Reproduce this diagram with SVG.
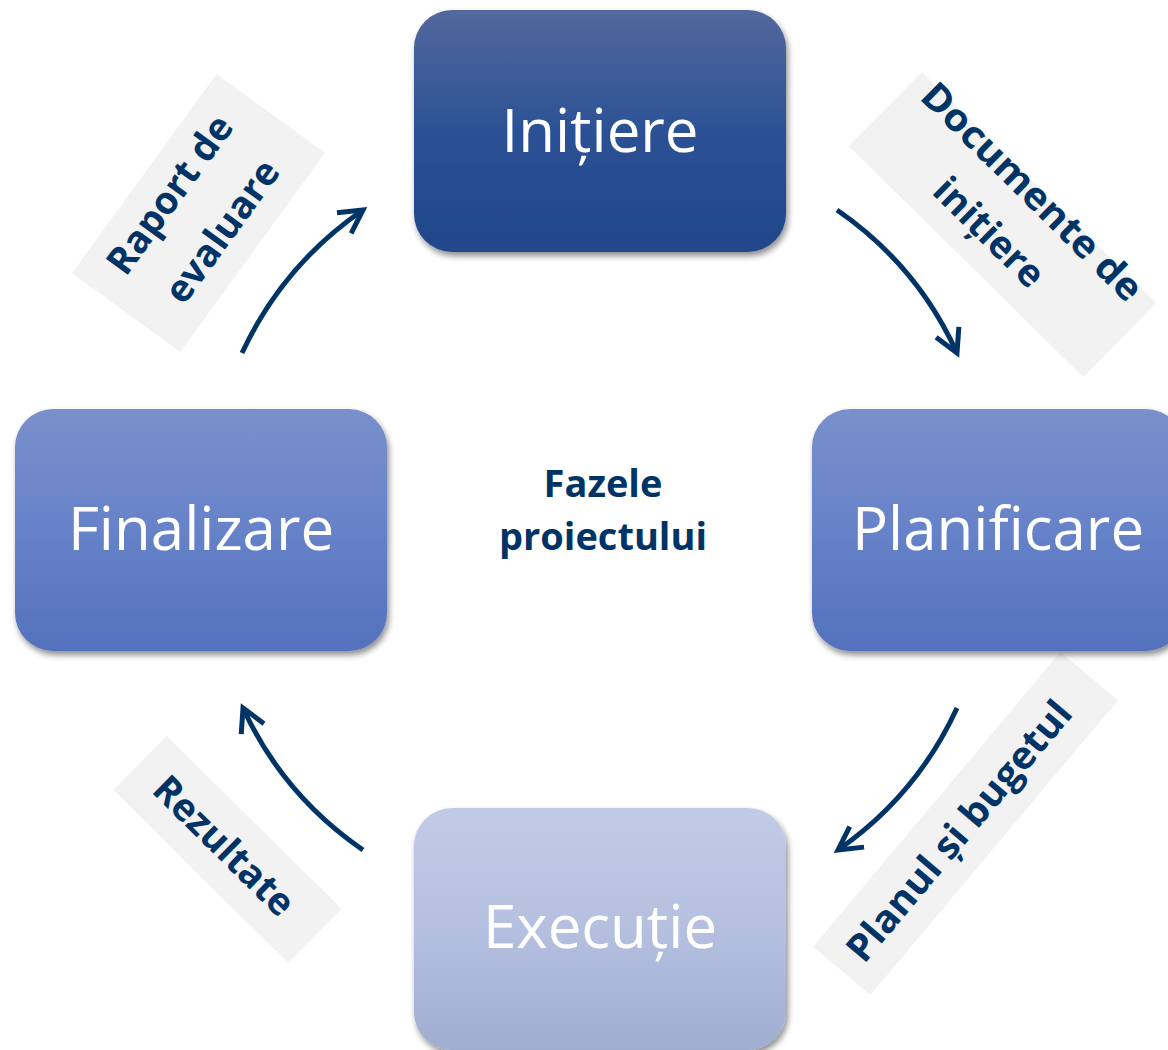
<svg xmlns="http://www.w3.org/2000/svg" width="1168" height="1050" viewBox="0 0 1168 1050">
  <defs>
    <linearGradient id="gDark" x1="0" y1="0" x2="0" y2="1">
      <stop offset="0" stop-color="#53689d"/>
      <stop offset="0.5" stop-color="#2b5195"/>
      <stop offset="1" stop-color="#22468a"/>
    </linearGradient>
    <linearGradient id="gMid" x1="0" y1="0" x2="0" y2="1">
      <stop offset="0" stop-color="#7a90cc"/>
      <stop offset="0.5" stop-color="#6682c8"/>
      <stop offset="1" stop-color="#5471bd"/>
    </linearGradient>
    <linearGradient id="gLight" x1="0" y1="0" x2="0" y2="1">
      <stop offset="0" stop-color="#c1cbe7"/>
      <stop offset="0.5" stop-color="#b5c0e0"/>
      <stop offset="1" stop-color="#9fadd0"/>
    </linearGradient>
    <filter id="shadow" x="-10%" y="-10%" width="125%" height="130%">
      <feGaussianBlur in="SourceAlpha" stdDeviation="3"/>
      <feOffset dx="2" dy="4" result="b"/>
      <feComponentTransfer><feFuncA type="linear" slope="0.45"/></feComponentTransfer>
      <feMerge><feMergeNode/><feMergeNode in="SourceGraphic"/></feMerge>
    </filter>
    <marker id="arrow" markerUnits="userSpaceOnUse" markerWidth="40" markerHeight="40" refX="0" refY="0" viewBox="-30 -20 40 40" orient="auto" overflow="visible">
      <path d="M -23,-12.5 L 0,0 L -23,12.5" fill="none" stroke="#003366" stroke-width="5"/>
    </marker>
    <style>
      .node-text { font-family: "Open Sans", "Noto Sans", sans-serif; font-size: 60px; fill: #ffffff; text-anchor: middle; }
      .lbl { font-family: "Open Sans", "Noto Sans", sans-serif; font-weight: bold; font-size: 38px; fill: #003366; text-anchor: middle; }
      .lblbox { fill: #f2f2f2; }
      .conn { fill: none; stroke: #003366; stroke-width: 5; marker-end: url(#arrow); }
    </style>
  </defs>
  <rect width="1168" height="1050" fill="#ffffff"/>

  <!-- label boxes -->
  <g id="label-documente" transform="translate(1002.5,224.5) rotate(44.6)">
    <rect class="lblbox" x="-164.5" y="-52" width="329" height="104"/>
    <text class="lbl" x="-2" y="-31" textLength="293" lengthAdjust="spacingAndGlyphs">Documente de</text>
    <text class="lbl" x="-4" y="28">inițiere</text>
  </g>
  <g id="label-raport" transform="translate(198.5,213) rotate(-54)">
    <rect class="lblbox" x="-123" y="-67" width="246" height="134"/>
    <text class="lbl" x="-2" y="-21">Raport de</text>
    <text class="lbl" x="-1" y="43">evaluare</text>
  </g>
  <g id="label-planul" transform="translate(965.5,823.5) rotate(-50)">
    <rect class="lblbox" x="-192.5" y="-37.5" width="385" height="75"/>
    <text class="lbl" x="-10" y="13" textLength="327" lengthAdjust="spacingAndGlyphs">Planul și bugetul</text>
  </g>
  <g id="label-rezultate" transform="translate(227.5,849.5) rotate(44.7)">
    <rect class="lblbox" x="-123" y="-38" width="246" height="76"/>
    <text class="lbl" x="-5" y="13">Rezultate</text>
  </g>

  <!-- connectors -->
  <g id="connectors">
    <path class="conn" d="M 837,210 Q 917,265 957,353"/>
    <path class="conn" d="M 957,708 Q 917,795 838,850"/>
    <path class="conn" d="M 363,850 Q 283,795 243,708"/>
    <path class="conn" d="M 242,353 Q 283,265 363,210"/>
  </g>

  <!-- nodes -->
  <g id="node-initiere">
    <rect x="414" y="10" width="372" height="242" rx="38" fill="url(#gDark)" filter="url(#shadow)"/>
    <text class="node-text" x="600" y="152">Inițiere</text>
  </g>
  <g id="node-planificare">
    <rect x="812" y="409" width="372" height="242" rx="38" fill="url(#gMid)" filter="url(#shadow)"/>
    <text class="node-text" x="998" y="550">Planificare</text>
  </g>
  <g id="node-executie">
    <rect x="414" y="808" width="372" height="242" rx="38" fill="url(#gLight)" filter="url(#shadow)"/>
    <text class="node-text" x="600" y="948">Execuție</text>
  </g>
  <g id="node-finalizare">
    <rect x="15" y="409" width="372" height="242" rx="38" fill="url(#gMid)" filter="url(#shadow)"/>
    <text class="node-text" x="201" y="550">Finalizare</text>
  </g>

  <g id="center-title">
    <text class="lbl" x="603" y="497">Fazele</text>
    <text class="lbl" x="603" y="550">proiectului</text>
  </g>
</svg>
